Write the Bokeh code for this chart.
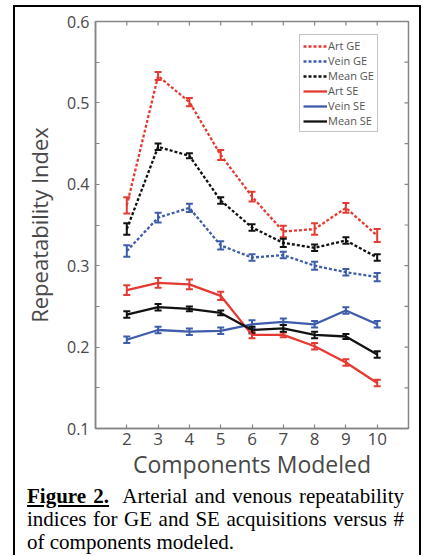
import math
from bokeh.plotting import figure
from bokeh.models import (ColumnDataSource, Whisker, TeeHead, FixedTicker,
                          Legend, LegendItem, Div, PrintfTickFormatter)
from bokeh.layouts import column
from bokeh.embed import file_html
from bokeh.resources import INLINE

# ---- data ----
components = [2, 3, 4, 5, 6, 7, 8, 9, 10]
y_ticks = [0.1, 0.2, 0.3, 0.4, 0.5, 0.6]
y_minor = [0.15, 0.25, 0.35, 0.45, 0.55]
x_limits = (1, 11)
y_limits = (0.1, 0.6)

art_ge = [0.374, 0.533, 0.501, 0.436, 0.385, 0.342, 0.345, 0.371, 0.337]
vein_ge = [0.318, 0.359, 0.371, 0.325, 0.310, 0.313, 0.300, 0.292, 0.286]
mean_ge = [0.345, 0.446, 0.435, 0.380, 0.347, 0.328, 0.322, 0.331, 0.310]
art_se = [0.270, 0.279, 0.277, 0.263, 0.215, 0.215, 0.201, 0.181, 0.156]
vein_se = [0.209, 0.221, 0.219, 0.220, 0.228, 0.231, 0.228, 0.245, 0.228]
mean_se = [0.240, 0.249, 0.247, 0.242, 0.221, 0.223, 0.215, 0.213, 0.191]

art_ge_err = [0.010, 0.005, 0.005, 0.006, 0.006, 0.007, 0.007, 0.006, 0.008]
vein_ge_err = [0.007, 0.006, 0.005, 0.005, 0.004, 0.004, 0.005, 0.004, 0.005]
mean_ge_err = [0.007, 0.004, 0.003, 0.004, 0.004, 0.005, 0.004, 0.004, 0.004]
art_se_err = [0.006, 0.006, 0.006, 0.005, 0.004, 0.003, 0.004, 0.004, 0.004]
vein_se_err = [0.004, 0.004, 0.004, 0.004, 0.005, 0.004, 0.004, 0.004, 0.004]
mean_se_err = [0.004, 0.004, 0.003, 0.003, 0.004, 0.004, 0.004, 0.003, 0.004]

series_names = ["Art GE", "Vein GE", "Mean GE", "Art SE", "Vein SE", "Mean SE"]
x_label = "Components Modeled"
y_label = "Repeatability Index"
caption_bold = "Figure 2."
caption_line1 = "Arterial and venous repeatability"
caption_line2 = "indices for GE and SE acquisitions versus #"
caption_line3 = "of components modeled."

RED = "#e53a32"
BLUE = "#3f5cab"
BLACK = "#111111"
AXIS_GRAY = "#858585"
TEXT_GRAY = "#484848"
FONT = "Open Sans"

series = [
    (series_names[0], art_ge, art_ge_err, RED, "3 2"),
    (series_names[1], vein_ge, vein_ge_err, BLUE, "3 2"),
    (series_names[2], mean_ge, mean_ge_err, BLACK, "3 2"),
    (series_names[3], art_se, art_se_err, RED, "solid"),
    (series_names[4], vein_se, vein_se_err, BLUE, "solid"),
    (series_names[5], mean_se, mean_se_err, BLACK, "solid"),
]

p = figure(width=404, height=483, x_range=x_limits, y_range=y_limits,
           output_backend="svg", toolbar_location=None,
           min_border_left=80, min_border_right=11, min_border_top=14,
           min_border_bottom=62, margin=0)
p.background_fill_color = "white"
p.border_fill_color = "white"
p.outline_line_color = AXIS_GRAY
p.outline_line_width = 1.5
p.xgrid.visible = False
p.ygrid.visible = False


def style_axis(ax):
    ax.axis_line_color = AXIS_GRAY
    ax.axis_line_width = 1.5
    ax.major_tick_line_color = AXIS_GRAY
    ax.minor_tick_line_color = AXIS_GRAY
    ax.major_tick_line_width = 1.2
    ax.minor_tick_line_width = 1.2
    ax.major_tick_in = 4
    ax.major_tick_out = 0
    ax.minor_tick_in = 4
    ax.minor_tick_out = 0
    ax.major_label_text_font = FONT
    ax.major_label_text_color = TEXT_GRAY
    ax.axis_label_text_font = FONT
    ax.axis_label_text_color = TEXT_GRAY
    ax.axis_label_text_font_style = "normal"


xa = p.xaxis[0]
xa.ticker = FixedTicker(ticks=components, minor_ticks=[])
style_axis(xa)
xa.major_label_text_font_size = "17px"
xa.major_label_standoff = 4
xa.axis_label = x_label
xa.axis_label_text_font_size = "23px"
xa.axis_label_standoff = 0

ya = p.yaxis[0]
ya.ticker = FixedTicker(ticks=y_ticks, minor_ticks=y_minor)
ya.formatter = PrintfTickFormatter(format="%.1f")
style_axis(ya)
ya.major_label_text_font_size = "16px"
ya.major_label_standoff = 6
ya.axis_label = y_label
ya.axis_label_text_font_size = "22px"
ya.axis_label_standoff = 10

# inward ticks on the top and right edges of the box (clipped half-dashes)
top_src = ColumnDataSource(dict(x=components, y=[y_limits[1]] * len(components)))
p.scatter("x", "y", source=top_src, marker="dash", size=8, angle=math.pi / 2,
          line_color=AXIS_GRAY, line_width=1.2)
right_vals = y_ticks + y_minor
right_src = ColumnDataSource(dict(x=[x_limits[1]] * len(right_vals), y=right_vals))
p.scatter("x", "y", source=right_src, marker="dash", size=8,
          line_color=AXIS_GRAY, line_width=1.2)

items = []
for name, vals, errs, color, dash in series:
    src = ColumnDataSource(dict(
        x=components, y=vals,
        upper=[v + e for v, e in zip(vals, errs)],
        lower=[v - e for v, e in zip(vals, errs)],
    ))
    r = p.line("x", "y", source=src, line_color=color, line_width=2.3, line_dash=dash)
    w = Whisker(source=src, base="x", upper="upper", lower="lower",
                line_color=color, line_width=2,
                upper_head=TeeHead(size=7, line_color=color, line_width=2),
                lower_head=TeeHead(size=7, line_color=color, line_width=2))
    p.add_layout(w)
    items.append(LegendItem(label=name, renderers=[r]))

legend = Legend(items=items, location=(204, 296))
legend.label_text_font = FONT
legend.label_text_font_size = "11px"
legend.label_text_color = "#555555"
legend.glyph_width = 24
legend.glyph_height = 14
legend.label_height = 14
legend.label_standoff = 1
legend.spacing = 0
legend.padding = 3
legend.margin = 0
legend.border_line_color = "#8a8a8a"
legend.border_line_width = 1.2
legend.background_fill_color = "white"
legend.background_fill_alpha = 1.0
p.add_layout(legend)

just = "text-align:justify;text-align-last:justify;"
caption_html = (
    '<div style="font-family:\'Liberation Serif\',\'Times New Roman\',serif;'
    'font-size:21px;line-height:23px;color:#000;width:377px;margin:0 0 0 12px;">'
    f'<div style="{just}"><b><u>{caption_bold}</u></b>&nbsp; {caption_line1}</div>'
    f'<div style="{just}">{caption_line2}</div>'
    f'<div style="text-align:left;">{caption_line3}</div>'
    '</div>'
)
div = Div(text=caption_html, width=404, height=70, margin=(-5, 0, 0, 0))

root = column(p, div, margin=0,
              styles={"border": "2px solid black", "border-bottom": "none",
                      "margin-left": "13px", "margin-top": "5px",
                      "background-color": "white"})

html = file_html(root, INLINE)
with open("out.html", "w") as f:
    f.write(html)
